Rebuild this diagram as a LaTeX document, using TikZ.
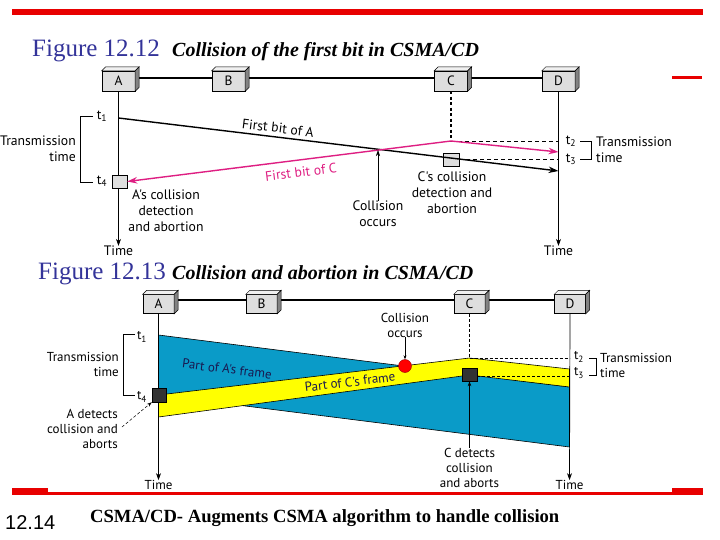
\documentclass[tikz,border=0pt]{standalone}
\usepackage{fontspec}
\setmainfont{Liberation Serif}
\newfontfamily\dgf{PT Sans}
\newfontfamily\arialf{Liberation Sans}
\usetikzlibrary{arrows.meta}
\definecolor{slidered}{RGB}{232,0,0}
\definecolor{titleblue}{RGB}{51,51,153}
\definecolor{magbit}{RGB}{222,30,130}
\definecolor{frameblue}{RGB}{10,155,200}
\definecolor{frameyellow}{RGB}{255,255,0}
\definecolor{boxface}{RGB}{222,222,222}
\definecolor{boxtop}{RGB}{240,240,240}
\definecolor{boxside}{RGB}{130,130,130}
\definecolor{navytext}{RGB}{25,25,80}
\tikzset{
  station/.style={draw, fill=boxface, minimum width=33pt, minimum height=20pt, inner sep=0pt, font=\dgf\fontsize{13.5}{13.5}\selectfont},
  lbl/.style={font=\dgf\fontsize{13.7}{16}\selectfont, inner sep=0pt, align=center},
  lbltwo/.style={font=\dgf\fontsize{13}{15}\selectfont, inner sep=0pt, align=center},
  bus/.style={line width=2pt},
  tline/.style={line width=0.7pt, -{Stealth[length=7pt,width=5pt]}},
  sig/.style={line width=1.4pt, -{Stealth[length=10pt,width=6.5pt]}},
  dashline/.style={line width=0.7pt, dash pattern=on 4pt off 3pt},
  brk/.style={line width=0.6pt},
  ttl/.style={anchor=base west, inner sep=0pt, text=titleblue, font=\fontsize{25}{27}\selectfont, text height=16pt, text depth=4pt},
  sub/.style={anchor=base west, inner sep=0pt, font=\bfseries\itshape\fontsize{20}{22}\selectfont, text height=13pt, text depth=4pt},
}
\begin{document}
\begin{tikzpicture}[x=1pt,y=-1pt]
\useasboundingbox (0,0) rectangle (720,540);
% slide decoration
\fill[slidered] (12,9) rectangle (703,15);
\fill[slidered] (672,76.5) rectangle (702,79.5);
\fill[slidered] (12,488) rectangle (48,495);
\fill[slidered] (48,491.5) rectangle (672,495);
\fill[slidered] (672,488) rectangle (703,495);
% titles
\node[ttl] (ttl1) at (32,57) {Figure 12.12};
\node[sub] (sub1) at (172,57) {Collision of the first bit in CSMA/CD};
\node[ttl] (ttl2) at (38,279) {Figure 12.13};
\node[sub] (sub2) at (172,279) {Collision and abortion in CSMA/CD};
\node[anchor=base west, inner sep=0pt, font=\arialf\fontsize{20}{22}\selectfont] (pg) at (5,529) {12.14};
\node[anchor=base west, inner sep=0pt, font=\bfseries\fontsize{18.6}{20}\selectfont] (foot) at (90,522) {CSMA/CD- Augments CSMA algorithm to handle collision};

% ================= Figure 12.12 =================
\node[station] (A1) at (118.5,81) {A};
\node[station] (B1) at (228.5,81) {B};
\node[station] (C1) at (451,81) {C};
\node[station] (D1) at (558.5,81) {D};
\draw[bus] ([yshift=3pt]A1.east) -- ([yshift=3pt]B1.west);
\draw[bus] ([yshift=3pt]B1.east) -- ([yshift=3pt]C1.west);
\draw[bus] ([yshift=3pt]C1.east) -- ([yshift=3pt]D1.west);

\node[lbl] (timeA1) at (118.5,251) {Time};
\node[lbl] (timeD1) at (558.5,251) {Time};
\draw[tline] (A1.south) -- (timeA1.north);
\draw[tline] (D1.south) -- (timeD1.north);

\coordinate (t1a) at (118.5,118);
\coordinate (endA) at (558.5,171);
\coordinate (cp1) at (451,141);
\coordinate (endC) at (558.5,152);
\coordinate (t2d) at (558.5,141);
\coordinate (t3d) at (558.5,159.5);
\coordinate (coll1) at (378,150);
\coordinate (collb1) at (378,201);

\node[draw, fill=boxface, minimum width=15pt, minimum height=13pt, inner sep=0pt] (sqA1) at (119.5,181.5) {};
\node[draw, fill=boxface, minimum width=16pt, minimum height=13pt, inner sep=0pt] (sqC1) at (451,159.5) {};

\draw[line width=1.1pt, dash pattern=on 3pt off 2.5pt] (C1.south) -- (cp1);
\draw[dashline] (cp1) -- (t2d);
\draw[dashline] (sqC1.east) -- (t3d);
\draw[sig] (t1a) -- (endA);
\draw[sig, magbit] (cp1) -- (sqA1.east);
\draw[sig, magbit] (cp1) -- (endC);
\draw[line width=0.6pt, -{Stealth[length=6pt,width=4pt]}] (collb1) -- (coll1);

\node[lbl, rotate=-6.9] (fbA) at (278,128) {First bit of A};
\node[lbl, rotate=7.1, text=magbit] (fbC) at (301,172) {First bit of C};

\node[lbl] (t1l) at (102,116) {t\textsubscript{1}};
\node[lbl] (t4l) at (102,181) {t\textsubscript{4}};
\draw[brk] (93,116) -- (80,116) -- (80,182) -- (93,182);
\node[lbl, anchor=east] (trl1) at (76,141) {Transmission};
\node[lbl, anchor=east] (trl1b) at (76,157) {time};

\node[lbl] (t2l) at (571,141) {t\textsubscript{2}};
\node[lbl] (t3l) at (571,159) {t\textsubscript{3}};
\draw[brk] (580,141) -- (591,141) -- (591,159.5) -- (580,159.5);
\node[lbl, anchor=west] (trr1) at (596,142) {Transmission};
\node[lbl, anchor=west] (trr1b) at (596,158) {time};

\node[lbl] (acd) at (166,211) {A's collision\\detection\\and abortion};
\node[lbl] (ccd) at (452,193) {C's collision\\detection and\\abortion};
\node[lbl, anchor=north] (co1) at (378,201) {Collision\\occurs};

% ================= Figure 12.13 =================
\node[station, minimum width=31pt, minimum height=19pt] (A2) at (158.5,304) {A};
\node[station, minimum width=31pt, minimum height=19pt] (B2) at (261.5,304) {B};
\node[station, minimum width=31pt, minimum height=19pt] (C2) at (469.5,304) {C};
\node[station, minimum width=31pt, minimum height=19pt] (D2) at (570,304) {D};
\draw[bus] ([yshift=4pt]A2.east) -- ([yshift=4pt]B2.west);
\draw[bus] ([yshift=4pt]B2.east) -- ([yshift=4pt]C2.west);
\draw[bus] ([yshift=4pt]C2.east) -- ([yshift=4pt]D2.west);

% frames
\draw[fill=frameblue, line width=0.6pt] (158.5,335) -- (569.5,387) -- (569.5,447) -- (158.5,395) -- cycle;
\draw[fill=frameyellow, line width=0.6pt] (158.5,395) -- (469.5,358) -- (569.5,369) -- (569.5,387) -- (469.5,375) -- (158.5,417) -- cycle;

\node[lbltwo] (timeA2) at (158.5,485) {Time};
\node[lbltwo] (timeD2) at (569.5,485) {Time};
\draw[tline] (A2.south) -- (timeA2.north);
\draw[tline] (D2.south) -- (timeD2.north);

\coordinate (cp2) at (469.5,358);
\coordinate (t2d2) at (569.5,358);
\coordinate (t3d2) at (569.5,376);
\draw[line width=0.6pt, dash pattern=on 3pt off 2pt] (C2.south) -- (cp2);
\draw[line width=0.6pt, dash pattern=on 3pt off 2pt] (cp2) -- (t2d2);
\draw[line width=0.6pt, dash pattern=on 3pt off 2pt] (477,376) -- (t3d2);

\node[draw, fill=black!80, minimum width=15pt, minimum height=13pt, inner sep=0pt] (sqC2) at (469.5,374.5) {};
\node[draw, fill=black!80, minimum width=14pt, minimum height=14pt, inner sep=0pt] (sqA2) at (159,395) {};
\node[circle, draw=red!60!black, fill=red, minimum size=13pt, inner sep=0pt] (rc) at (405,366) {};

\node[lbltwo, rotate=-7.2, text=navytext] (pA) at (227,369) {Part of A's frame};
\node[lbltwo, rotate=6.8, text=navytext] (pC) at (350,382) {Part of C's frame};

\node[lbltwo] (co2) at (405,325) {Collision\\occurs};
\draw[line width=0.5pt, -{Stealth[length=4pt,width=3pt]}] (co2.south) -- (rc.north);

\node[lbltwo, anchor=north] (cdet) at (469.5,448) {C detects\\collision\\and aborts};
\draw[line width=0.6pt, -{Stealth[length=5pt,width=3.5pt]}] (cdet.north) -- (sqC2.south);

\node[lbltwo, align=right, anchor=east] (adet) at (118,429) {A detects\\collision and\\aborts};
\coordinate (adp) at (122,427);
\draw[line width=0.5pt, densely dashed, -{Stealth[length=5pt,width=3.5pt]}] (adp) -- (sqA2.south west);

\node[lbltwo] (t1l2) at (142,337) {t\textsubscript{1}};
\node[lbltwo] (t4l2) at (142,397) {t\textsubscript{4}};
\draw[brk] (135,334) -- (123,334) -- (123,395) -- (135,395);
\node[lbltwo, anchor=east] (trl2) at (119,357) {Transmission};
\node[lbltwo, anchor=east] (trl2b) at (119,372) {time};

\node[lbltwo] (t2l2) at (579,357) {t\textsubscript{2}};
\node[lbltwo] (t3l2) at (579,373) {t\textsubscript{3}};
\draw[brk] (589,358) -- (596,358) -- (596,375) -- (589,375);
\node[lbltwo, anchor=west] (trr2) at (600,358) {Transmission};
\node[lbltwo, anchor=west] (trr2b) at (600,373) {time};

% 3D faces for stations
\foreach \n in {A1,B1,C1,D1,A2,B2,C2,D2} {
  \draw[fill=boxtop, line width=0.5pt] (\n.north west) -- ++(4pt,4pt) -- ([shift={(4pt,4pt)}]\n.north east) -- (\n.north east) -- cycle;
  \draw[fill=boxside, line width=0.5pt] (\n.north east) -- ++(4pt,4pt) -- ([shift={(4pt,4pt)}]\n.south east) -- (\n.south east) -- cycle;
}
\end{tikzpicture}
\end{document}
